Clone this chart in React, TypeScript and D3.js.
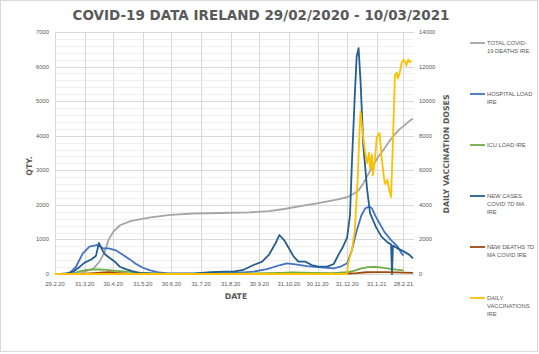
import React, { useEffect, useRef } from 'react';
import * as d3 from 'd3';

type Pt = [string, number];

// values (left axis unless noted)
const totalDeaths: Pt[] = [
  ['2020-02-29', 0], ['2020-03-11', 1], ['2020-03-20', 3], ['2020-03-27', 25], ['2020-04-02', 90],
  ['2020-04-09', 150], ['2020-04-16', 370], ['2020-04-21', 640], ['2020-04-25', 980], ['2020-04-30', 1220],
  ['2020-05-07', 1410], ['2020-05-18', 1530], ['2020-05-26', 1570], ['2020-06-08', 1640], ['2020-06-29', 1710],
  ['2020-07-23', 1750], ['2020-08-20', 1765], ['2020-09-20', 1780], ['2020-10-10', 1820], ['2020-10-26', 1880],
  ['2020-11-15', 1980], ['2020-12-01', 2050], ['2020-12-20', 2150], ['2020-12-31', 2220], ['2021-01-07', 2320],
  ['2021-01-12', 2420], ['2021-01-17', 2620], ['2021-01-22', 2880], ['2021-01-27', 3130], ['2021-02-01', 3370],
  ['2021-02-07', 3590], ['2021-02-13', 3830], ['2021-02-19', 4040], ['2021-02-24', 4190], ['2021-03-01', 4300],
  ['2021-03-05', 4400], ['2021-03-10', 4500],
];

const hospitalLoad: Pt[] = [
  ['2020-02-29', 0], ['2020-03-08', 0], ['2020-03-15', 20], ['2020-03-22', 210], ['2020-03-29', 590],
  ['2020-04-05', 790], ['2020-04-14', 840], ['2020-04-19', 745], ['2020-04-25', 740], ['2020-05-03', 680],
  ['2020-05-10', 560], ['2020-05-17', 430], ['2020-05-24', 290], ['2020-05-31', 180], ['2020-06-07', 110],
  ['2020-06-15', 55], ['2020-06-25', 20], ['2020-07-15', 12], ['2020-08-10', 15], ['2020-08-25', 25],
  ['2020-09-10', 40], ['2020-09-24', 70], ['2020-10-08', 140], ['2020-10-22', 260], ['2020-10-29', 310],
  ['2020-11-05', 285], ['2020-11-19', 230], ['2020-12-03', 195], ['2020-12-17', 165], ['2020-12-24', 210],
  ['2020-12-31', 310], ['2021-01-05', 690], ['2021-01-10', 1250], ['2021-01-15', 1700], ['2021-01-19', 1900],
  ['2021-01-23', 1950], ['2021-01-26', 1900], ['2021-01-30', 1660], ['2021-02-02', 1510], ['2021-02-08', 1220],
  ['2021-02-15', 980], ['2021-02-22', 790], ['2021-02-26', 600], ['2021-02-28', 530],
];

const icuLoad: Pt[] = [
  ['2020-02-29', 0], ['2020-03-12', 0], ['2020-03-19', 20], ['2020-03-26', 75], ['2020-04-02', 120],
  ['2020-04-09', 135], ['2020-04-16', 130], ['2020-04-23', 120], ['2020-04-30', 100], ['2020-05-10', 75],
  ['2020-05-20', 55], ['2020-05-31', 35], ['2020-06-15', 20], ['2020-07-01', 12], ['2020-08-01', 8],
  ['2020-09-01', 10], ['2020-09-25', 20], ['2020-10-20', 35], ['2020-11-05', 45], ['2020-11-25', 35],
  ['2020-12-15', 28], ['2020-12-31', 50], ['2021-01-08', 100], ['2021-01-15', 165], ['2021-01-22', 200],
  ['2021-01-29', 205], ['2021-02-06', 185], ['2021-02-14', 150], ['2021-02-21', 125], ['2021-02-28', 105],
];

const newCases7d: Pt[] = [
  ['2020-02-29', 0], ['2020-03-06', 0], ['2020-03-12', 20], ['2020-03-19', 67], ['2020-03-26', 212],
  ['2020-03-31', 330], ['2020-04-07', 420], ['2020-04-12', 530], ['2020-04-15', 900], ['2020-04-18', 720],
  ['2020-04-21', 580], ['2020-04-26', 470], ['2020-05-01', 370], ['2020-05-07', 210], ['2020-05-13', 140],
  ['2020-05-20', 80], ['2020-05-27', 35], ['2020-06-08', 15], ['2020-07-05', 12], ['2020-07-25', 20],
  ['2020-08-10', 50], ['2020-08-25', 70], ['2020-09-03', 67], ['2020-09-13', 116], ['2020-09-24', 260],
  ['2020-10-03', 357], ['2020-10-10', 550], ['2020-10-17', 888], ['2020-10-21', 1128], ['2020-10-26', 983],
  ['2020-10-31', 743], ['2020-11-05', 502], ['2020-11-10', 357], ['2020-11-17', 357], ['2020-11-24', 260],
  ['2020-12-01', 212], ['2020-12-10', 212], ['2020-12-17', 290], ['2020-12-22', 560], ['2020-12-26', 750],
  ['2020-12-31', 1050], ['2021-01-03', 1700], ['2021-01-05', 3200], ['2021-01-08', 5150], ['2021-01-10', 6300],
  ['2021-01-12', 6530], ['2021-01-14', 5600], ['2021-01-17', 3700], ['2021-01-21', 2430], ['2021-01-24', 1760],
  ['2021-01-30', 1370], ['2021-02-05', 1080], ['2021-02-12', 900], ['2021-02-15', 860], ['2021-02-16', 0],
  ['2021-02-17', 820], ['2021-02-22', 740], ['2021-03-01', 640], ['2021-03-06', 560], ['2021-03-10', 450],
];

const newDeaths7d: Pt[] = [
  ['2020-02-29', 0], ['2020-03-20', 1], ['2020-03-31', 10], ['2020-04-10', 25], ['2020-04-20', 45],
  ['2020-04-26', 55], ['2020-05-03', 30], ['2020-05-15', 12], ['2020-06-01', 5], ['2020-07-01', 1],
  ['2020-09-01', 1], ['2020-10-15', 3], ['2020-11-15', 5], ['2020-12-15', 5], ['2020-12-31', 10],
  ['2021-01-10', 25], ['2021-01-20', 50], ['2021-02-01', 55], ['2021-02-10', 55], ['2021-02-20', 45],
  ['2021-03-01', 40], ['2021-03-10', 30],
];

// right axis
const dailyVaccinations: Pt[] = [
  ['2020-02-29', 0], ['2020-12-31', 0], ['2021-01-01', 600], ['2021-01-05', 1400], ['2021-01-08', 2500],
  ['2021-01-11', 5400], ['2021-01-13', 8300], ['2021-01-14', 9400], ['2021-01-16', 8300], ['2021-01-19', 7000],
  ['2021-01-21', 6400], ['2021-01-23', 7000], ['2021-01-24', 6100], ['2021-01-26', 6900], ['2021-01-27', 5700],
  ['2021-01-29', 6500], ['2021-01-31', 7900], ['2021-02-03', 8150], ['2021-02-05', 6800], ['2021-02-08', 5400],
  ['2021-02-09', 5200], ['2021-02-11', 5450], ['2021-02-13', 4900], ['2021-02-15', 4450], ['2021-02-17', 7700],
  ['2021-02-19', 11500], ['2021-02-21', 11650], ['2021-02-22', 11300], ['2021-02-24', 11600], ['2021-02-26', 12200],
  ['2021-02-28', 12400], ['2021-03-02', 12250], ['2021-03-03', 12050], ['2021-03-05', 12400], ['2021-03-07', 12250],
  ['2021-03-08', 12350],
];

const dateTicks = [
  '2020-02-29', '2020-03-31', '2020-04-30', '2020-05-31', '2020-06-30', '2020-07-31', '2020-08-31',
  '2020-09-30', '2020-10-31', '2020-11-30', '2020-12-31', '2021-01-31', '2021-02-28',
];
const leftTicks = [0, 1000, 2000, 3000, 4000, 5000, 6000, 7000];
const rightTicks = [0, 2000, 4000, 6000, 8000, 10000, 12000, 14000];

const legendLabels = [
  ['TOTAL COVID-', '19 DEATHS IRE'],
  ['HOSPITAL LOAD', 'IRE'],
  ['ICU LOAD IRE'],
  ['NEW CASES', 'COVID 7D MA', 'IRE'],
  ['NEW DEATHS 7D', 'MA COVID IRE'],
  ['DAILY', 'VACCINATIONS', 'IRE'],
];

const App = () => {
  const svgRef = useRef<SVGSVGElement>(null);

  useEffect(() => {
    const W = 539;
    const H = 354;
    const plot = { left: 55, right: 413, top: 32, bottom: 274 };
    const grey = '#595959';
    const tickFont = 'Liberation Sans, Arial, sans-serif';
    const boldFont = 'DejaVu Sans, sans-serif';

    const svg = d3.select(svgRef.current);
    svg.selectAll('*').remove();
    svg.attr('width', W).attr('height', H);

    svg.append('rect')
      .attr('x', 0.5).attr('y', 0.5)
      .attr('width', W - 2).attr('height', H - 3)
      .attr('fill', 'white')
      .attr('stroke', '#d9d9d9');

    const parse = d3.timeParse('%Y-%m-%d');
    const fmt = d3.timeFormat('%-d.%-m.%y');

    const x = d3.scaleTime()
      .domain([parse('2020-02-29') as Date, parse('2021-03-10') as Date])
      .range([plot.left, plot.right]);
    const yL = d3.scaleLinear().domain([0, 7000]).range([plot.bottom, plot.top]);
    const yR = d3.scaleLinear().domain([0, 14000]).range([plot.bottom, plot.top]);

    // minor gridlines
    svg.append('g')
      .selectAll('line')
      .data(d3.range(0, 7001, 200).filter(v => v % 1000 !== 0))
      .join('line')
      .attr('x1', plot.left).attr('x2', plot.right + 1)
      .attr('y1', d => Math.round(yL(d)) + 0.5).attr('y2', d => Math.round(yL(d)) + 0.5)
      .attr('stroke', '#efefef');

    // major gridlines
    svg.append('g')
      .selectAll('line')
      .data(leftTicks)
      .join('line')
      .attr('x1', plot.left).attr('x2', plot.right + 1)
      .attr('y1', d => Math.round(yL(d)) + 0.5).attr('y2', d => Math.round(yL(d)) + 0.5)
      .attr('stroke', '#d9d9d9');

    svg.append('g')
      .selectAll('line')
      .data(dateTicks)
      .join('line')
      .attr('x1', d => Math.round(x(parse(d) as Date)) + 0.5)
      .attr('x2', d => Math.round(x(parse(d) as Date)) + 0.5)
      .attr('y1', plot.top).attr('y2', plot.bottom)
      .attr('stroke', '#d9d9d9');

    // tick labels
    svg.append('g')
      .selectAll('text')
      .data(leftTicks)
      .join('text')
      .attr('x', 49).attr('y', d => yL(d) + 2)
      .attr('text-anchor', 'end')
      .attr('font-family', tickFont).attr('font-size', 5.8)
      .attr('fill', grey)
      .text(d => String(d));

    svg.append('g')
      .selectAll('text')
      .data(rightTicks)
      .join('text')
      .attr('x', 419).attr('y', d => yR(d) + 2)
      .attr('text-anchor', 'start')
      .attr('font-family', tickFont).attr('font-size', 5.8)
      .attr('fill', grey)
      .text(d => String(d));

    svg.append('g')
      .selectAll('text')
      .data(dateTicks)
      .join('text')
      .attr('x', d => x(parse(d) as Date)).attr('y', 286)
      .attr('text-anchor', 'middle')
      .attr('font-family', tickFont).attr('font-size', 5.8)
      .attr('fill', grey)
      .text(d => fmt(parse(d) as Date));

    // series
    const series = [
      { data: totalDeaths, color: '#a5a5a5', y: yL },
      { data: hospitalLoad, color: '#4472c4', y: yL },
      { data: icuLoad, color: '#70ad47', y: yL },
      { data: newCases7d, color: '#255e91', y: yL },
      { data: newDeaths7d, color: '#9e480e', y: yL },
      { data: dailyVaccinations, color: '#ffc000', y: yR },
    ];

    series.forEach(s => {
      const line = d3.line<Pt>()
        .x(d => x(parse(d[0]) as Date))
        .y(d => s.y(d[1]));
      svg.append('path')
        .datum(s.data)
        .attr('fill', 'none')
        .attr('stroke', s.color)
        .attr('stroke-width', 1.8)
        .attr('stroke-linejoin', 'round')
        .attr('d', line);
    });

    // legend
    series.forEach((s, i) => {
      const ly = 43 + i * 51;
      svg.append('line')
        .attr('x1', 470).attr('x2', 485)
        .attr('y1', ly).attr('y2', ly)
        .attr('stroke', s.color).attr('stroke-width', 1.8);
      const t = svg.append('text')
        .attr('font-family', tickFont).attr('font-size', 5.8)
        .attr('fill', grey);
      legendLabels[i].forEach((txt, j) => {
        t.append('tspan')
          .attr('x', 487).attr('y', ly + 2 + j * 8.2)
          .text(txt);
      });
    });

    // titles
    svg.append('text')
      .attr('x', 261).attr('y', 20)
      .attr('text-anchor', 'middle')
      .attr('font-family', boldFont).attr('font-weight', 'bold').attr('font-size', 13.5)
      .attr('fill', grey)
      .text('COVID-19 DATA IRELAND 29/02/2020 - 10/03/2021');

    svg.append('text')
      .attr('x', 236).attr('y', 299)
      .attr('text-anchor', 'middle')
      .attr('font-family', boldFont).attr('font-weight', 'bold').attr('font-size', 7.8)
      .attr('fill', grey)
      .text('DATE');

    svg.append('text')
      .attr('transform', 'translate(32,166) rotate(-90)')
      .attr('text-anchor', 'middle')
      .attr('font-family', boldFont).attr('font-weight', 'bold').attr('font-size', 7.8)
      .attr('fill', grey)
      .text('QTY.');

    svg.append('text')
      .attr('transform', 'translate(449,154) rotate(-90)')
      .attr('text-anchor', 'middle')
      .attr('font-family', boldFont).attr('font-weight', 'bold').attr('font-size', 7.8)
      .attr('fill', grey)
      .text('DAILY VACCINATION DOSES');
  }, []);

  return <svg ref={svgRef} style={{ position: 'absolute', left: 0, top: 0 }} />;
};

export default App;
